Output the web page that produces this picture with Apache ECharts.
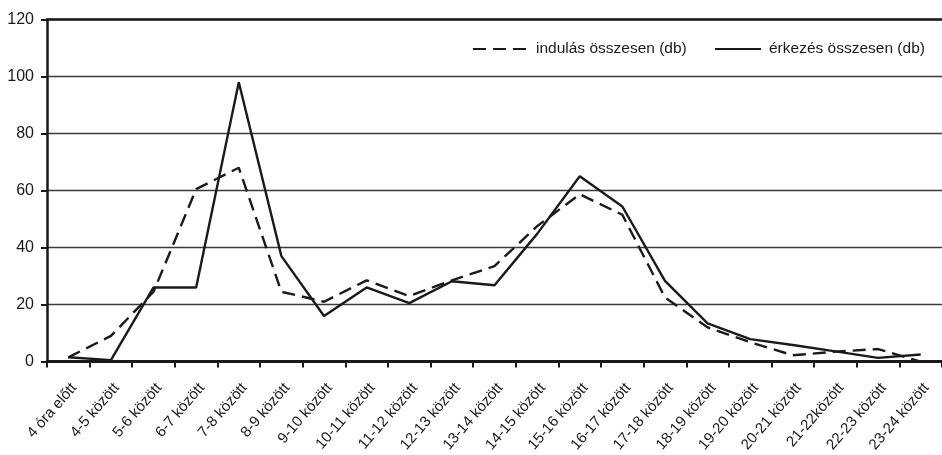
<!DOCTYPE html>
<html>
<head>
<meta charset="utf-8">
<script src="https://cdn.jsdelivr.net/npm/echarts@6/dist/echarts.min.js"></script>
<style>
html,body{margin:0;padding:0;background:#fff;}
#chart{width:942px;height:455px;}
</style>
</head>
<body>
<div id="chart"></div>
<script>
const categories = ['4 óra előtt','4-5 között','5-6 között','6-7 között','7-8 között','8-9 között','9-10 között','10-11 között','11-12 között','12-13 között','13-14 között','14-15 között','15-16 között','16-17 között','17-18 között','18-19 között','19-20 között','20-21 között','21-22között','22-23 között','23-24 között'];
const indulas = [1.5, 9, 24.5, 60.5, 68, 24.5, 21, 28.5, 23, 28.5, 33.5, 47.5, 58.7, 51.5, 22.5, 12, 6.8, 2.2, 3.5, 4.4, 0];
const erkezes = [1.5, 0.5, 26, 26, 98, 37, 16, 26, 20.5, 28.2, 26.8, 44.8, 65, 54.4, 28.3, 13.4, 7.9, 5.8, 3.6, 1.3, 2.5];
const yTicks = { min: 0, max: 120, interval: 20 };
const seriesNames = ['indulás összesen (db)', 'érkezés összesen (db)'];

const FONT = '"Liberation Sans", Arial, sans-serif';
const INK = '#1a1a1a';
const chart = echarts.init(document.getElementById('chart'), null, { renderer: 'canvas' });
const legendText = { fontSize: 15.5, color: INK, fontFamily: FONT, padding: [0, 0, 0, 3] };
const hideSym = { color: 'rgba(0,0,0,0)', borderWidth: 0, opacity: 0 };
chart.setOption({
  animation: false,
  backgroundColor: '#fff',
  textStyle: { fontFamily: FONT, color: INK },
  legend: [
    { data: [seriesNames[0]], left: 467, top: 36, itemWidth: 55, itemHeight: 14, itemGap: 0,
      itemStyle: hideSym, textStyle: legendText },
    { data: [seriesNames[1]], left: 709, top: 36, itemWidth: 46, itemHeight: 14, itemGap: 0,
      itemStyle: hideSym, textStyle: legendText }
  ],
  grid: { left: 47, right: -4, top: 19.5, bottom: 92, containLabel: false },
  xAxis: [{
    type: 'category', data: categories, boundaryGap: true,
    axisLine: { lineStyle: { color: INK, width: 3 } },
    axisTick: { show: true, length: 6, lineStyle: { color: INK, width: 2 } },
    axisLabel: { rotate: 49, fontSize: 15, color: INK, fontFamily: FONT, margin: 19,
      verticalAlign: 'top', interval: 0 },
    splitLine: { show: false }
  }, {
    type: 'category', data: categories, position: 'top',
    axisLine: { lineStyle: { color: INK, width: 2.5 } },
    axisTick: { show: false }, axisLabel: { show: false }, splitLine: { show: false }
  }],
  yAxis: {
    type: 'value', min: yTicks.min, max: yTicks.max, interval: yTicks.interval,
    axisLine: { show: true, lineStyle: { color: INK, width: 2.5 } },
    axisTick: { show: true, length: 6, lineStyle: { color: INK, width: 2 } },
    axisLabel: { fontSize: 16, color: INK, fontFamily: FONT, margin: 13 },
    splitLine: { show: true, lineStyle: { color: '#3a3a3a', width: 1.4 } }
  },
  series: [
    { name: seriesNames[0], type: 'line', data: indulas, symbol: 'none', color: INK,
      lineStyle: { color: INK, width: 2.4, type: [13, 7] } },
    { name: seriesNames[1], type: 'line', data: erkezes, symbol: 'none', color: INK,
      lineStyle: { color: INK, width: 2.4, type: 'solid' } }
  ]
});
</script>
</body>
</html>
